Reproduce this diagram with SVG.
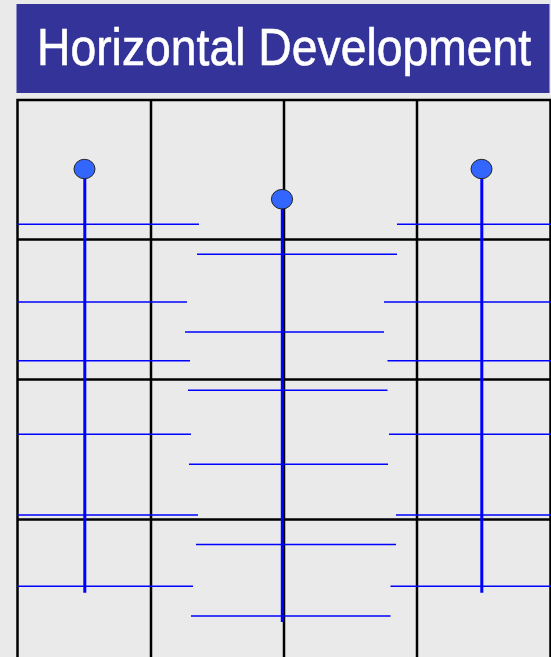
<svg xmlns="http://www.w3.org/2000/svg" width="551" height="657" viewBox="0 0 551 657">
<style>
.grid{stroke:#000;stroke-width:2.5;fill:none}
.h{stroke:#0000FF;stroke-width:1.5}
.v{stroke:#0000FF;stroke-width:3}
.dot{fill:#3366FF;stroke:#222;stroke-width:1}
.title{font-family:"Liberation Sans",Arial,sans-serif;font-size:51px;fill:#fff;stroke:#fff;stroke-width:0.6}
</style>
<rect width="551" height="657" fill="#EAEAEA"/>
<g id="title">
<rect x="16.5" y="4" width="533" height="89" fill="#333399"/>
<text class="title" transform="translate(37 65) scale(0.908 1)" x="0" y="0">Horizontal Development</text>
</g>
<g id="grid" class="grid">
<path d="M17.5 657V100H550.5V657"/>
<path d="M151 100V657M284 100V657M417 100V657"/>
<path d="M17.5 239.5H550.5M17.5 379.5H550.5M17.5 519.5H550.5"/>
</g>
<g id="connectors">
<g class="h">
<line x1="17" y1="224.3" x2="199" y2="224.3"/>
<line x1="397" y1="224.3" x2="551" y2="224.3"/>
<line x1="197" y1="254.3" x2="397" y2="254.3"/>
<line x1="17" y1="302" x2="187" y2="302"/>
<line x1="384" y1="302" x2="551" y2="302"/>
<line x1="185" y1="332" x2="384" y2="332"/>
<line x1="17" y1="360.7" x2="190" y2="360.7"/>
<line x1="387.5" y1="360.7" x2="551" y2="360.7"/>
<line x1="188" y1="390.3" x2="387.5" y2="390.3"/>
<line x1="17" y1="434.3" x2="191" y2="434.3"/>
<line x1="389" y1="434.3" x2="551" y2="434.3"/>
<line x1="189" y1="464.3" x2="388" y2="464.3"/>
<line x1="17" y1="515" x2="198" y2="515"/>
<line x1="396" y1="515" x2="551" y2="515"/>
<line x1="196" y1="544.5" x2="396" y2="544.5"/>
<line x1="17" y1="586.3" x2="193" y2="586.3"/>
<line x1="390.5" y1="586.3" x2="551" y2="586.3"/>
<line x1="191" y1="616" x2="390.5" y2="616"/>
</g>
<g class="v">
<line x1="84.8" y1="178" x2="84.8" y2="592.7"/>
<line x1="282.3" y1="208" x2="282.3" y2="622"/>
<line x1="481.8" y1="178" x2="481.8" y2="592.7"/>
</g>
</g>
<g id="node-left"><ellipse class="dot" cx="84.5" cy="169" rx="10.5" ry="9.7"/></g>
<g id="node-center"><ellipse class="dot" cx="282" cy="199.2" rx="10.6" ry="9.8"/></g>
<g id="node-right"><ellipse class="dot" cx="481.5" cy="169" rx="10.5" ry="9.7"/></g>
</svg>
